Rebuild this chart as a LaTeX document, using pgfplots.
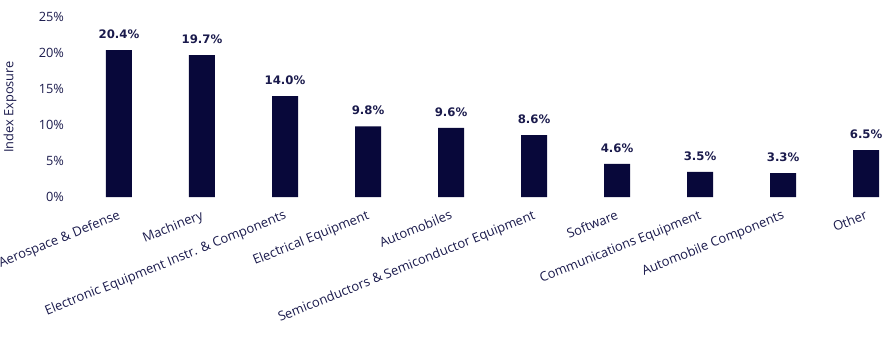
\documentclass[border=0pt]{standalone}
\usepackage{pgfplots}
\pgfplotsset{compat=1.18}
\usepackage{fontspec}
\setmainfont{Open Sans}
\newfontfamily\valuefont{DejaVu Sans}
\definecolor{barnavy}{HTML}{08083A}
\definecolor{textnavy}{HTML}{1A1A4C}
\begin{document}
\begin{tikzpicture}[x=1pt,y=1pt]
\path[use as bounding box] (-52.5pt,-104.25pt) rectangle (619.5pt,147.75pt);
\begin{axis}[
  at={(0,0)}, anchor=south west,
  scale only axis,
  width=619.5pt, height=135pt,
  xmin=-0.59, xmax=9.36,
  ymin=0, ymax=25,
  axis line style={draw=none},
  tick style={draw=none},
  ybar, bar width=19.5pt,
  clip=false,
  /pgf/number format/assume math mode=true,
  ytick={0,5,10,15,20,25},
  yticklabels={0\%,5\%,10\%,15\%,20\%,25\%},
  yticklabel style={font=\fontsize{9.6}{12}\selectfont, text=textnavy, xshift=-1pt},
  xtick=data,
  xticklabels={Aerospace \& Defense, Machinery, Electronic Equipment Instr. \& Components,
    Electrical Equipment, Automobiles, Semiconductors \& Semiconductor Equipment,
    Software, Communications Equipment, Automobile Components, Other},
  xticklabel style={font=\fontsize{9.75}{12}\selectfont, text=textnavy, rotate=22,
    anchor=north east, inner sep=1pt, yshift=-3pt, xshift=-2pt},
  ylabel={Index Exposure},
  every axis y label/.style={at={(axis description cs:-0.0726,0.5)}, anchor=center,
    rotate=90, font=\fontsize{9.6}{11}\selectfont, text=textnavy},
  nodes near coords={\pgfmathprintnumber[fixed,fixed zerofill,precision=1]{\pgfplotspointmeta}\%},
  nodes near coords style={font=\valuefont\bfseries\fontsize{8.8}{10}\selectfont, text=textnavy, yshift=5pt},
]
\addplot[fill=barnavy, draw=none] coordinates {
  (0,20.4) (1,19.7) (2,14.0) (3,9.8) (4,9.6)
  (5,8.6) (6,4.6) (7,3.5) (8,3.3) (9,6.5)
};
\end{axis}
\end{tikzpicture}
\end{document}
